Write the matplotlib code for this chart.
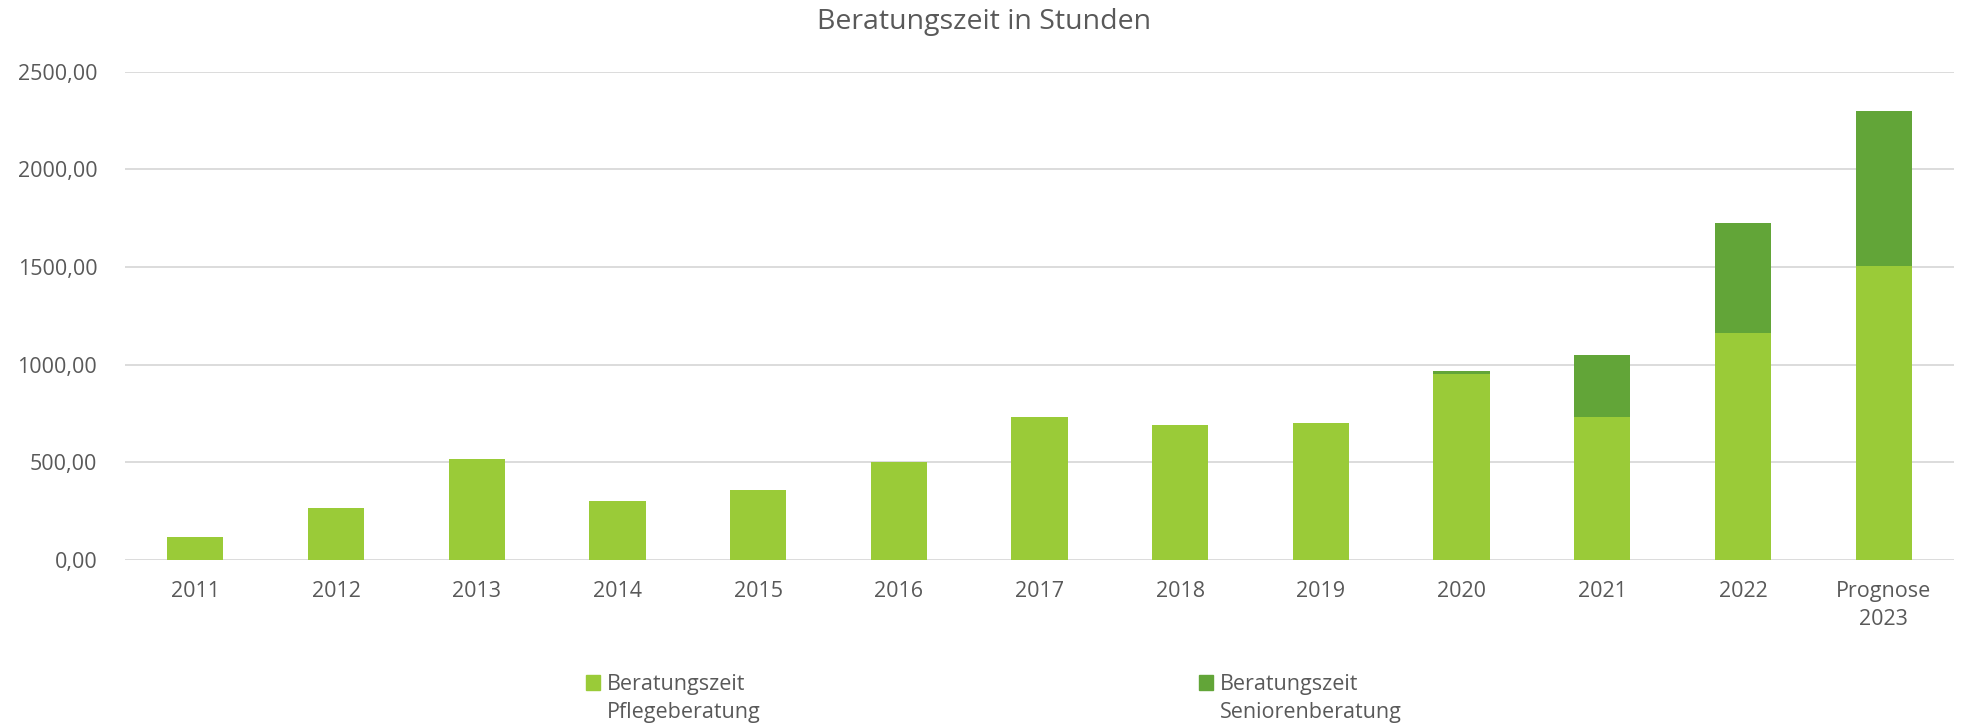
import matplotlib
matplotlib.use("Agg")
import matplotlib.pyplot as plt
import numpy as np
from matplotlib.patches import Patch, Rectangle
from matplotlib.legend_handler import HandlerPatch

categories = ["2011", "2012", "2013", "2014", "2015", "2016", "2017", "2018",
              "2019", "2020", "2021", "2022", "Prognose\n2023"]
pflege = [116, 267, 516, 304, 357, 502, 731, 692, 702, 952, 731, 1164, 1507]
senioren = [0, 0, 0, 0, 0, 0, 0, 0, 0, 18, 317, 560, 791]
series_names = ["Beratungszeit\nPflegeberatung", "Beratungszeit\nSeniorenberatung"]
title = "Beratungszeit in Stunden"

c_light = "#9ACB38"
c_dark = "#62A538"
txt = "#595959"
grid = "#D9D9D9"

plt.rcParams['font.family'] = ['Open Sans', 'DejaVu Sans']

fig = plt.figure(figsize=(19.68, 7.28), dpi=100)
ax = fig.add_axes([125/1968, 1-560/728, (1954-125)/1968, (560-71.6)/728])

x = np.arange(len(categories))
w = 0.4
ax.bar(x, pflege, w, color=c_light, zorder=3)
ax.bar(x, senioren, w, bottom=pflege, color=c_dark, zorder=3)

ax.set_xlim(-0.5, len(categories)-0.5)
ax.set_ylim(0, 2500)
ax.set_yticks(np.arange(0, 2501, 500))
ax.set_yticklabels([f"{v},00" for v in range(0, 2501, 500)])
ax.set_xticks(x)
ax.set_xticklabels(categories)
ax.tick_params(axis='both', length=0, labelsize=15.5, colors=txt)
ax.tick_params(axis='x', pad=15)
ax.tick_params(axis='y', pad=20)
for lab in ax.get_xticklabels():
    lab.set_linespacing(1.45)
ax.yaxis.grid(True, color=grid, linewidth=1.3, zorder=0)
for s in ax.spines.values():
    s.set_visible(False)

fig.text(0.5, 1-22/728, title, ha='center', va='center', fontsize=20.5, color=txt)


class TopHandler(HandlerPatch):
    def __init__(self, shift, **kw):
        super().__init__(**kw)
        self.shift = shift

    def create_artists(self, legend, orig_handle, xdescent, ydescent, width,
                       height, fontsize, trans):
        p = Rectangle((-xdescent, -ydescent + self.shift), width, height)
        self.update_prop(p, orig_handle, legend)
        p.set_transform(trans)
        return [p]


h1 = Patch(color=c_light)
h2 = Patch(color=c_dark)
for h, name, xpos in [(h1, series_names[0], 586/1968), (h2, series_names[1], 1199/1968)]:
    lg = fig.legend([h], [name], loc='upper left', bbox_to_anchor=(xpos, 1-674/728),
                    frameon=False, fontsize=15.5, handlelength=0.65, handleheight=0.65,
                    handletextpad=0.3, borderpad=0, borderaxespad=0, labelcolor=txt,
                    handler_map={Patch: TopHandler(12)})
    for t in lg.get_texts():
        t.set_linespacing(1.45)

fig.savefig("out.png", dpi=100)
